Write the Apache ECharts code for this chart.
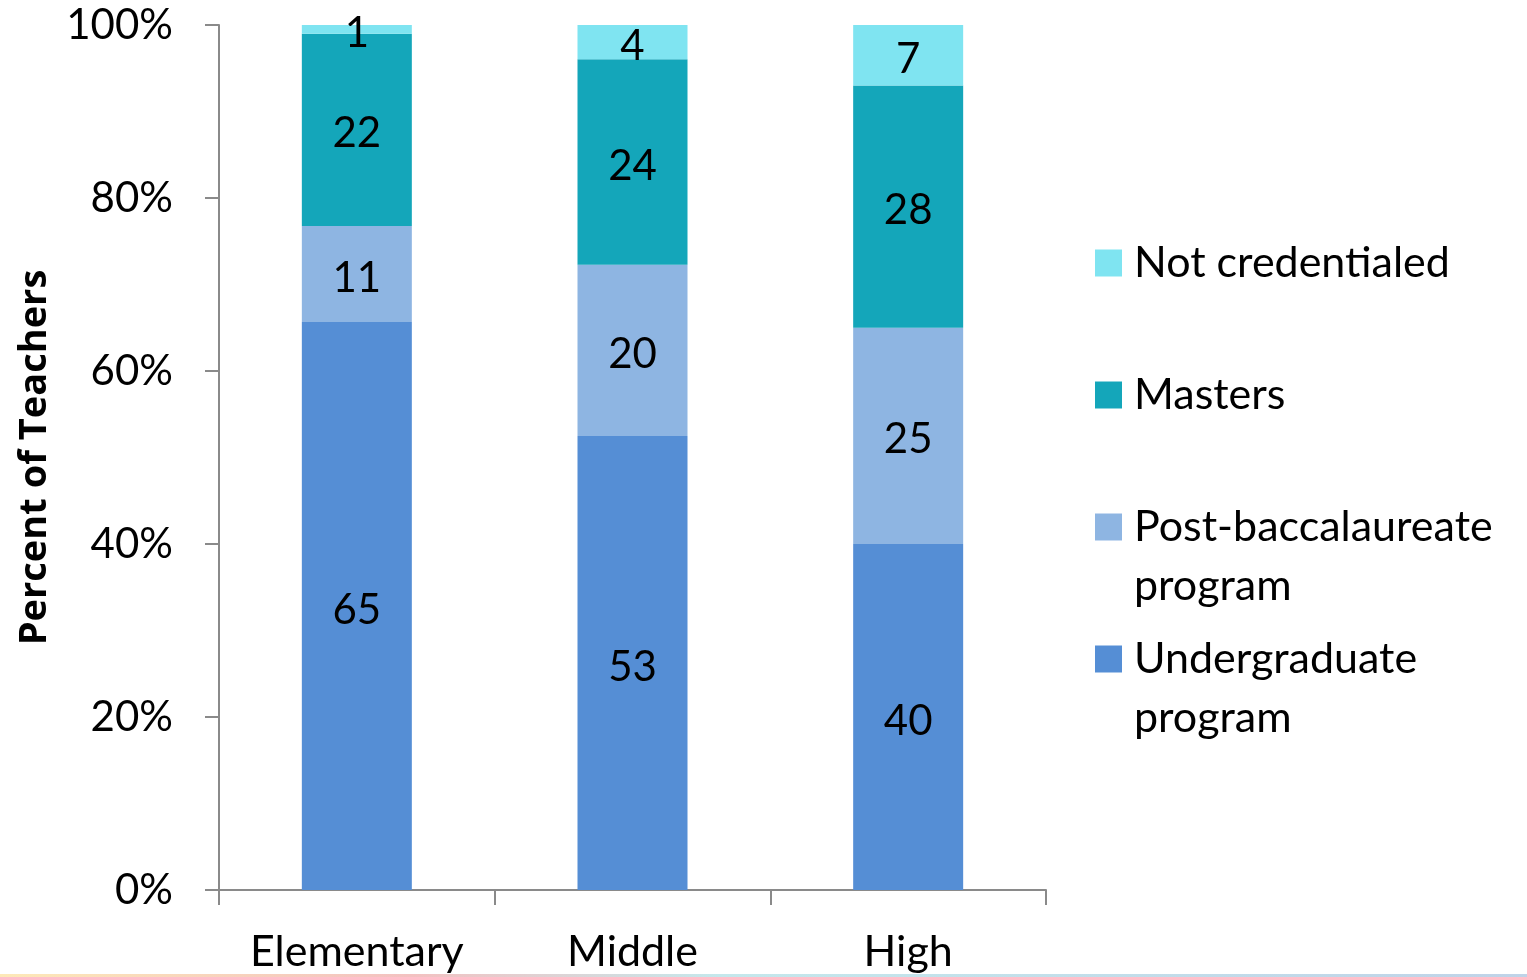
<!DOCTYPE html>
<html>
<head>
<meta charset="utf-8">
<script src="https://cdn.jsdelivr.net/npm/echarts@6/dist/echarts.min.js"></script>
<style>
html,body{margin:0;padding:0;background:#fff;}
#chart{width:1527px;height:977px;}
</style>
</head>
<body>
<div id="chart"></div>
<script>
const categories = ['Elementary', 'Middle', 'High'];
const undergraduate = [65, 53, 40];
const postBacc = [11, 20, 25];
const masters = [22, 24, 28];
const notCredentialed = [1, 4, 7];
const yTicks = [0, 20, 40, 60, 80, 100];

const seriesNames = ['Undergraduate program', 'Post-baccalaureate program', 'Masters', 'Not credentialed'];
const seriesValues = [undergraduate, postBacc, masters, notCredentialed];
const colors = ['#558ED5', '#8EB5E2', '#14A6BA', '#7FE4F1'];

const totals = categories.map((c, i) => seriesValues.reduce((s, arr) => s + arr[i], 0));

const FONT = 'Lato';

const series = seriesNames.map((name, k) => ({
  name: name,
  type: 'bar',
  stack: 'total',
  barWidth: 110,
  itemStyle: { color: colors[k] },
  label: {
    show: true,
    position: 'inside',
    offset: [0, 4],
    color: '#000',
    fontFamily: FONT,
    fontSize: 42,
    formatter: p => String(seriesValues[k][p.dataIndex])
  },
  emphasis: { disabled: true },
  data: seriesValues[k].map((v, i) => v / totals[i] * 100)
}));

const legendDisplay = {
  'Not credentialed': 'Not credentialed',
  'Masters': 'Masters',
  'Post-baccalaureate program': '\nPost-baccalaureate\nprogram',
  'Undergraduate program': '\nUndergraduate\nprogram'
};
const legendOrder = ['Not credentialed', 'Masters', 'Post-baccalaureate program', 'Undergraduate program'];
const legendCenters = [263, 395, 527, 659];
const LH = 59;

const legends = legendOrder.map((name, i) => {
  const multi = legendDisplay[name].indexOf('\n') === 0;
  const h = multi ? 3 * LH : LH;
  return {
    orient: 'vertical',
    left: 1095,
    top: legendCenters[i] - h / 2,
    padding: 0,
    itemWidth: 27,
    itemHeight: 27,
    icon: 'rect',
    selectedMode: false,
    data: [name],
    formatter: n => legendDisplay[n],
    textStyle: {
      fontFamily: FONT,
      fontSize: 43,
      color: '#000',
      lineHeight: LH,
      padding: [0, 0, 0, 7]
    }
  };
});

const chart = echarts.init(document.getElementById('chart'));
chart.setOption({
  animation: false,
  backgroundColor: '#fff',
  grid: { left: 219, right: 1527 - 1046, top: 25, bottom: 977 - 890, containLabel: false },
  legend: legends,
  xAxis: {
    type: 'category',
    data: categories,
    boundaryGap: true,
    axisLine: { lineStyle: { color: '#8A8A8A', width: 2 } },
    axisTick: { show: true, interval: 0, length: 15, lineStyle: { color: '#8A8A8A', width: 2 } },
    axisLabel: { interval: 0, hideOverlap: false, fontFamily: FONT, fontSize: 43, color: '#000', margin: 41 }
  },
  yAxis: {
    type: 'value',
    min: 0,
    max: 100,
    interval: 20,
    name: 'Percent of Teachers',
    nameLocation: 'middle',
    nameRotate: 90,
    nameGap: 165,
    nameTextStyle: { fontFamily: 'Open Sans', fontSize: 38, fontWeight: 'bold', color: '#000' },
    axisLine: { show: true, lineStyle: { color: '#8A8A8A', width: 2 } },
    axisTick: { show: true, length: 14, lineStyle: { color: '#8A8A8A', width: 2 } },
    splitLine: { show: false },
    axisLabel: {
      fontFamily: FONT, fontSize: 42, color: '#000', margin: 46,
      formatter: v => (yTicks.indexOf(v) >= 0 ? v + '%' : '')
    }
  },
  graphic: [{
    type: 'rect',
    left: 0,
    top: 974,
    z: -10,
    shape: { width: 1527, height: 3 },
    style: {
      fill: new echarts.graphic.LinearGradient(0, 0, 1, 0, [
        { offset: 0, color: '#FDE9B8' },
        { offset: 0.27, color: '#F3C1C1' },
        { offset: 0.47, color: '#C4E8EC' },
        { offset: 1, color: '#BFD3E8' }
      ])
    }
  }],
  series: series
});
</script>
</body>
</html>
